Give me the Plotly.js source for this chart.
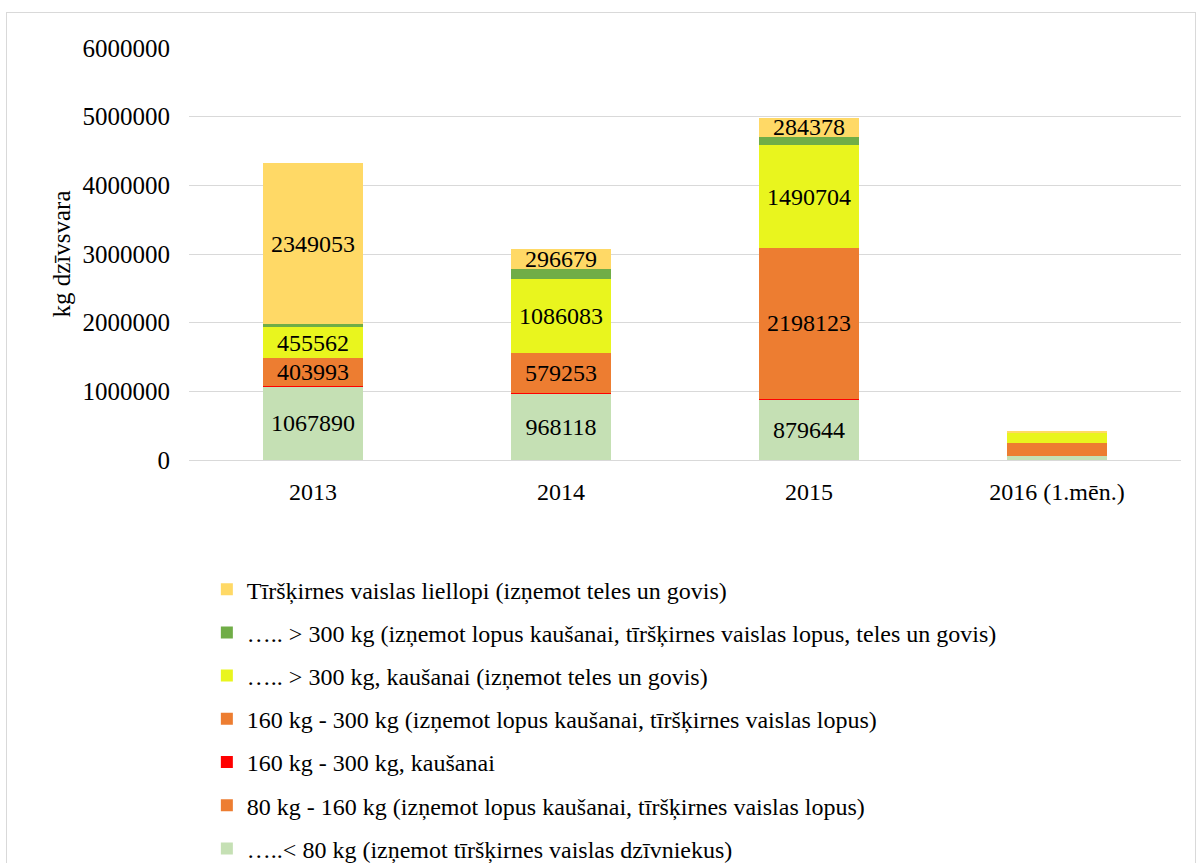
<!DOCTYPE html>
<html>
<head>
<meta charset="utf-8">
<script src="https://cdn.plot.ly/plotly-3.0.1.min.js"></script>
<style>
  body { margin: 0; background: #fff; overflow: hidden; }
  #ramis { position: absolute; left: 6px; top: 12px; width: 1190px; height: 930px; border: 1px solid #d9d9d9; box-sizing: border-box; }
  #grafiks { position: absolute; left: 0; top: 0; width: 1204px; height: 930px; }
</style>
</head>
<body>
<div id="ramis"></div>
<div id="grafiks"></div>
<script>
// gadi
const gadi = ['2013', '2014', '2015', '2016 (1.mēn.)'];

// sērijas (no apakšas uz augšu)
const mazak80 = [1067890, 968118, 879644, 60000];
const no80lidz160 = [0, 0, 0, 0];
const no160kausanai = [10000, 8000, 12000, 0];
const no160lidz300 = [403993, 579253, 2198123, 190000];
const virs300kausanai = [455562, 1086083, 1490704, 140000];
const virs300 = [40000, 140000, 120000, 0];
const tirskirnes = [2349053, 296679, 284378, 30000];

// kuras vērtības rāda uz stabiņiem
const radit = {
  mazak80: [true, true, true, false],
  no160lidz300: [true, true, true, false],
  virs300kausanai: [true, true, true, false],
  tirskirnes: [true, true, true, false]
};

const nosaukumi = [
  '…..< 80 kg (izņemot tīršķirnes vaislas dzīvniekus)',
  '80 kg - 160 kg (izņemot lopus kaušanai, tīršķirnes vaislas lopus)',
  '160 kg - 300 kg, kaušanai',
  '160 kg - 300 kg (izņemot lopus kaušanai, tīršķirnes vaislas lopus)',
  '….. > 300 kg, kaušanai (izņemot teles un govis)',
  '….. > 300 kg (izņemot lopus kaušanai, tīršķirnes vaislas lopus, teles un govis)',
  'Tīršķirnes vaislas liellopi (izņemot teles un govis)'
];
const krasas = ['#c5e0b4', '#ed7d31', '#ff0000', '#ed7d31', '#e9f51e', '#70ad47', '#ffd966'];

const fonts = '"Liberation Serif", "Times New Roman", serif';

function stabs(vert, i, rad) {
  return {
    x: gadi,
    y: vert,
    type: 'bar',
    name: nosaukumi[i],
    legendgroup: 'g' + i,
    legendrank: 100 - i * 10,
    marker: {color: krasas[i], line: {width: 0}},
    width: 0.4,
    text: rad ? vert.map((v, j) => rad[j] ? String(v) : '') : undefined,
    textposition: rad ? 'inside' : 'none',
    insidetextanchor: 'middle',
    textfont: {family: fonts, size: 24, color: '#000'},
    hoverinfo: 'y+name'
  };
}

const dati = [
  stabs(mazak80, 0, radit.mazak80),
  stabs(no80lidz160, 1, null),
  stabs(no160kausanai, 2, null),
  stabs(no160lidz300, 3, radit.no160lidz300),
  stabs(virs300kausanai, 4, radit.virs300kausanai),
  stabs(virs300, 5, null),
  stabs(tirskirnes, 6, radit.tirskirnes)
];

const izkartojums = {
  width: 1204,
  height: 930,
  barmode: 'stack',
  paper_bgcolor: 'rgba(0,0,0,0)',
  plot_bgcolor: 'rgba(0,0,0,0)',
  margin: {l: 189, r: 23, t: 48, b: 470},
  font: {family: fonts, size: 24, color: '#000'},
  uniformtext: {mode: 'show', minsize: 24},
  xaxis: {
    type: 'category',
    tickfont: {family: fonts, size: 24},
    showline: true,
    linecolor: '#d9d9d9',
    linewidth: 1,
    ticklabelstandoff: 10
  },
  yaxis: {
    range: [0, 6000000],
    dtick: 1000000,
    tickformat: 'd',
    gridcolor: '#d9d9d9',
    zeroline: false,
    tickfont: {family: fonts, size: 25},
    ticklabelstandoff: 18,
    title: {text: 'kg dzīvsvara', font: {family: fonts, size: 25}, standoff: 4}
  },
  legend: {
    orientation: 'v',
    traceorder: 'grouped',
    tracegroupgap: 9,
    x: 0.018,
    xanchor: 'left',
    y: -0.26,
    yanchor: 'top',
    font: {family: fonts, size: 24},
    itemclick: false
  }
};

Plotly.newPlot('grafiks', dati, izkartojums, {displayModeBar: false, staticPlot: true});
</script>
</body>
</html>
